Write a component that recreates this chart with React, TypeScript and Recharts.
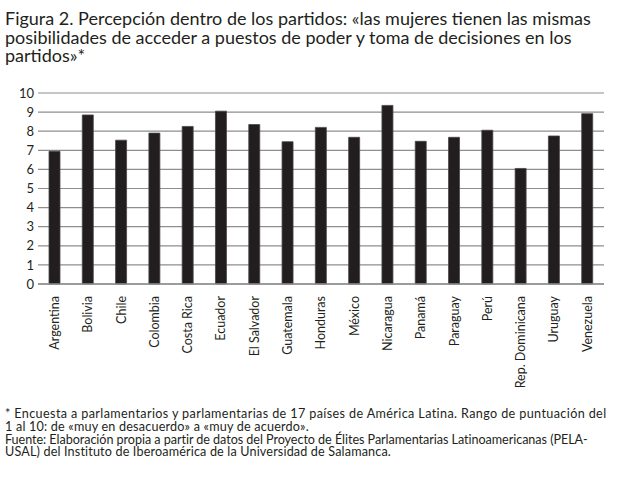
import React from "react";
import { BarChart, Bar, XAxis, YAxis, CartesianGrid } from "recharts";

// 国名（横軸）
const countries = [
  "Argentina",
  "Bolivia",
  "Chile",
  "Colombia",
  "Costa Rica",
  "Ecuador",
  "El Salvador",
  "Guatemala",
  "Honduras",
  "México",
  "Nicaragua",
  "Panamá",
  "Paraguay",
  "Perú",
  "Rep. Dominicana",
  "Uruguay",
  "Venezuela",
];

// 平均スコア
const scores = [
  6.95, 8.85, 7.53, 7.9, 8.25, 9.05, 8.35, 7.45, 8.2, 7.68, 9.35, 7.47, 7.68,
  8.05, 6.05, 7.75, 8.92,
];

const yTicks = [0, 1, 2, 3, 4, 5, 6, 7, 8, 9, 10];

const titleLines = [
  "Figura 2. Percepción dentro de los partidos: «las mujeres tienen las mismas",
  "posibilidades de acceder a puestos de poder y toma de decisiones en los",
  "partidos»*",
];

const noteLines = [
  "* Encuesta a parlamentarios y parlamentarias de 17 países de América Latina. Rango de puntuación del",
  "1 al 10: de «muy en desacuerdo» a «muy de acuerdo».",
  "Fuente: Elaboración propia a partir de datos del Proyecto de Élites Parlamentarias Latinoamericanas (PELA-",
  "USAL) del Instituto de Iberoamérica de la Universidad de Salamanca.",
];

// 脚注の行ごとの字間（元図の行幅に合わせる）
const noteSpacing = [0.38, 0.2, -0.05, 0.16];

const data = countries.map((name, i) => ({ name, value: scores[i] }));

const FONT = "Lato, 'Noto Sans', sans-serif";
const INK = "#231f20";

// 縦書きのカテゴリラベル
const CountryTick = (props: any) => {
  const { x, y, payload } = props;
  return (
    <text
      transform={`translate(${x},${y + 12}) rotate(-90)`}
      textAnchor="end"
      dy="0.35em"
      fontSize={12.5}
      fontFamily={FONT}
      fill={INK}
    >
      {payload.value}
    </text>
  );
};

export default function App() {
  return (
    <div
      style={{
        position: "absolute",
        left: 0,
        top: 0,
        width: 623,
        height: 497,
        background: "#fff",
        fontFamily: FONT,
        color: INK,
        overflow: "hidden",
      }}
    >
      <BarChart
        width={623}
        height={420}
        data={data}
        margin={{ top: 93, right: 19, left: 0, bottom: 0 }}
        barSize={11}
        style={{ position: "absolute", left: 0, top: 0 }}
      >
        <CartesianGrid vertical={false} stroke="#8e8e8e" strokeWidth={1.2} />
        <XAxis
          dataKey="name"
          interval={0}
          height={136}
          tickLine={false}
          tickSize={0}
          tickMargin={0}
          axisLine={{ stroke: "#8e8e8e", strokeWidth: 1.5 }}
          tick={<CountryTick />}
        />
        <YAxis
          width={38}
          domain={[0, 10]}
          ticks={yTicks}
          interval={0}
          axisLine={false}
          tickLine={false}
          tickSize={3}
          tickMargin={1}
          tick={{ fontSize: 13, fill: INK, fontFamily: FONT }}
        />
        <Bar
          dataKey="value"
          fill="#221e1f"
          stroke="#4a4647"
          strokeWidth={0.8}
          isAnimationActive={false}
        />
      </BarChart>

      <div
        style={{
          position: "absolute",
          left: 5,
          top: 9,
          fontSize: 18,
          lineHeight: "18.5px",
          whiteSpace: "nowrap",
        }}
      >
        {titleLines.map((t) => (
          <div key={t}>{t}</div>
        ))}
      </div>

      <div
        style={{
          position: "absolute",
          left: 5,
          top: 408,
          fontSize: 12.6,
          lineHeight: "12.8px",
          whiteSpace: "nowrap",
        }}
      >
        {noteLines.map((t, i) => (
          <div key={t} style={{ letterSpacing: noteSpacing[i] }}>
            {t}
          </div>
        ))}
      </div>
    </div>
  );
}
